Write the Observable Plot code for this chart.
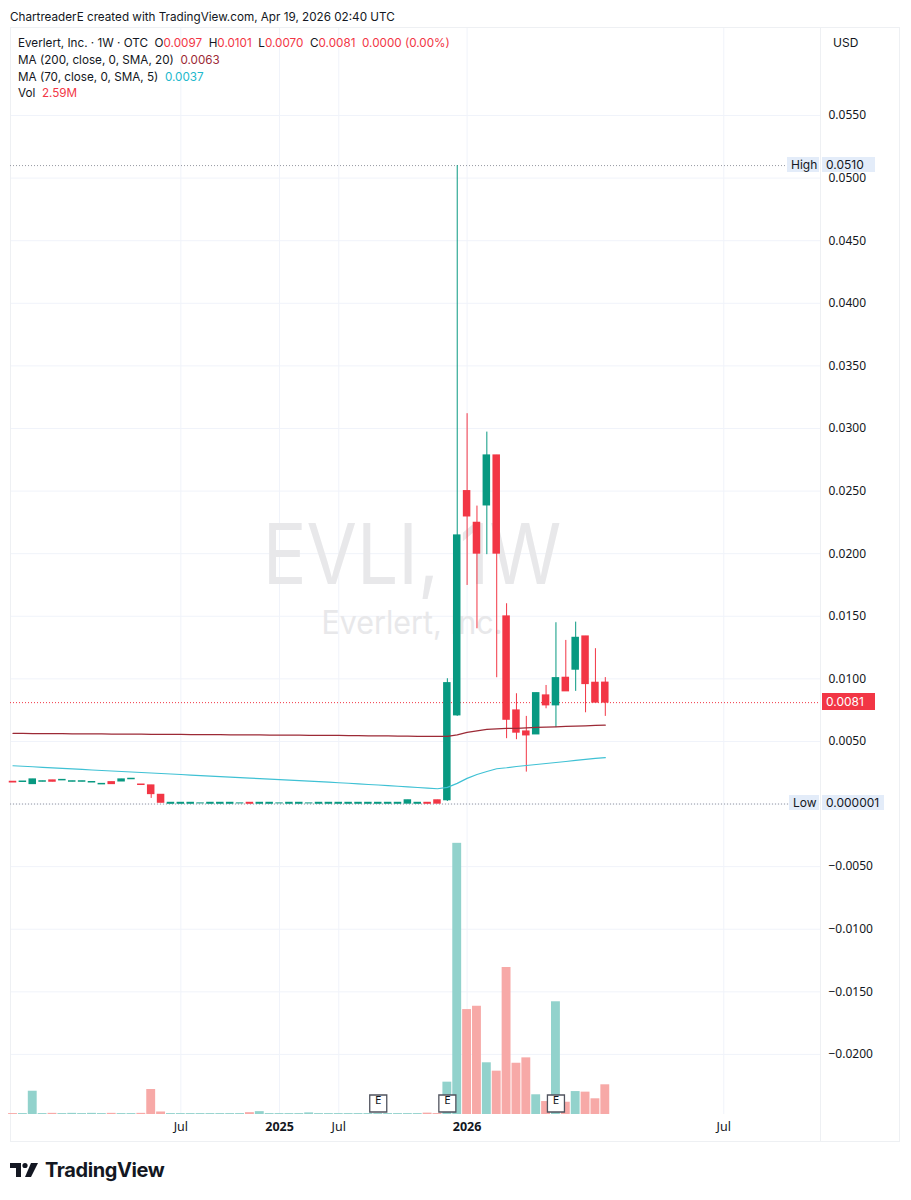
<!DOCTYPE html>
<html><head><meta charset="utf-8">
<script src="https://cdn.jsdelivr.net/npm/d3@7"></script>
<script src="https://cdn.jsdelivr.net/npm/@observablehq/plot@0.6"></script>
<style>
body{margin:0;background:#fff;font-family:Inter,"Noto Sans",sans-serif;color:#131722}
#wrap{position:relative;width:911px;height:1200px;overflow:hidden;background:#fff}
#wrap svg{position:absolute;left:0;top:0}
.abs{position:absolute;white-space:nowrap}
.hdr{font-size:11.7px;left:10px;top:10px}
.leg{font-size:11.7px;left:18px}
.red{color:#f23645}.ma2{color:#9c2a36}.ma7{color:#22b8cc}
.tag{position:absolute;font-size:12px;height:15px;line-height:15px;padding:0 4px;box-sizing:border-box;background:#e3ecf9;color:#131722}
.wm{position:absolute;color:#e8e8ea;text-align:center;width:600px;left:112px}
</style></head><body><div id="wrap"></div>
<script>
// ---- data (weekly bars, index 0..60) ----
const opens  = [0.00178,0.00176,0.00159,0.00178,0.00189,0.00189,0.00178,0.00178,0.00172,0.00157,
                0.00175,0.0018,0.00198,0.00156,0.00149,0.00074,0.00002,0.00002,0.00002,0.00005,
                0.00002,0.00002,0.00002,0.00005,0.0001,0.00002,0.00002,0.00005,0.00002,0.00002,
                0.00005,0.00002,0.00002,0.00002,0.00002,0.00002,0.00002,0.00002,0.00002,0.00002,
                0.00003,0.00002,0.0001,0.0003,0.0003,0.00708,0.025,0.02247,0.02385,0.02785,
                0.01499,0.00748,0.0058,0.00556,0.00868,0.00788,0.01009,0.01073,0.01339,0.00969,0.0097];
const highs  = [0.00178,0.0018,0.00197,0.00182,0.00189,0.00193,0.00182,0.00182,0.00176,0.00161,
                0.00175,0.00197,0.00202,0.00156,0.00149,0.00074,0.0001,0.0001,0.0001,0.00005,
                0.0001,0.0001,0.0001,0.00005,0.0001,0.0001,0.0001,0.00005,0.0001,0.0001,
                0.00005,0.0001,0.0001,0.0001,0.0001,0.0001,0.0001,0.0001,0.0001,0.0001,
                0.0003,0.0001,0.0001,0.0003,0.01001,0.051,0.03118,0.0238,0.02971,0.02785,
                0.016,0.00881,0.007,0.00886,0.00947,0.01448,0.01307,0.01453,0.01339,0.01241,0.0101];
const lows   = [0.00172,0.00176,0.00159,0.00178,0.00178,0.00189,0.00178,0.00178,0.00172,0.00157,
                0.00159,0.0018,0.00198,0.00152,0.00045,0.0001,0.000001,0.00002,0.00002,0.00005,
                0.00002,0.00002,0.00002,0.00005,0.00002,0.00002,0.00002,0.00005,0.00002,0.00002,
                0.00005,0.00002,0.00002,0.00002,0.00002,0.00002,0.00002,0.00002,0.00002,0.00002,
                0.00003,0.00002,0.00002,0.00003,0.0002,0.007,0.01746,0.014,0.01992,0.01009,
                0.00522,0.00514,0.00255,0.00556,0.00761,0.0061,0.009,0.009,0.00729,0.00809,0.007];
const closes = [0.00172,0.0018,0.00197,0.00182,0.00178,0.00193,0.00182,0.00182,0.00176,0.00161,
                0.00159,0.00197,0.00202,0.00152,0.00079,0.0001,0.0001,0.0001,0.0001,0.00005,
                0.0001,0.0001,0.0001,0.00005,0.00002,0.0001,0.0001,0.00005,0.0001,0.0001,
                0.00005,0.0001,0.0001,0.0001,0.0001,0.0001,0.0001,0.0001,0.0001,0.0001,
                0.0003,0.0001,0.00002,0.00003,0.00966,0.02146,0.02297,0.02,0.02785,0.02,
                0.00673,0.0057,0.00548,0.00886,0.00788,0.01006,0.009,0.01328,0.00958,0.0081,0.0081];
const volumesM = [0.08,0.08,2.03,0.08,0.1,0.08,0.1,0.08,0.1,0.08,
                  0.1,0.08,0.08,0.1,2.18,0.22,0.08,0.08,0.08,0.08,
                  0.08,0.08,0.08,0.08,0.16,0.25,0.08,0.08,0.08,0.08,
                  0.14,0.08,0.08,0.08,0.08,0.08,0.08,0.08,0.08,0.08,
                  0.08,0.08,0.12,0.08,2.82,23.65,9.15,9.44,4.51,3.78,
                  12.82,4.47,4.94,1.72,1.13,9.83,1.07,2.0,1.95,1.37,2.59];
const ma200 = [0.00564,0.00564,0.00563,0.00563,0.00562,0.00562,0.00561,0.00561,0.0056,0.0056,
               0.00559,0.00559,0.00558,0.00558,0.00557,0.00557,0.00556,0.00556,0.00555,0.00555,
               0.00554,0.00554,0.00553,0.00553,0.00552,0.00552,0.00551,0.00551,0.0055,0.0055,
               0.00549,0.00549,0.00548,0.00548,0.00547,0.00546,0.00545,0.00545,0.00544,0.00543,
               0.00542,0.00541,0.0054,0.0054,0.0054,0.00552,0.00572,0.00584,0.00596,0.006,
               0.00604,0.00605,0.00608,0.00612,0.00614,0.00617,0.0062,0.00622,0.00625,0.00628,0.0063];
const ma70  = [0.00306,0.00302,0.00298,0.00293,0.00289,0.00285,0.00281,0.00277,0.00272,0.00268,
               0.00264,0.0026,0.00256,0.00252,0.00248,0.00244,0.0024,0.00236,0.00231,0.00227,
               0.00223,0.00219,0.00215,0.00211,0.00207,0.00203,0.00199,0.00195,0.00191,0.00187,
               0.00183,0.00179,0.00175,0.0017,0.00166,0.00161,0.00156,0.00152,0.00147,0.00142,
               0.00137,0.00132,0.00127,0.00122,0.00133,0.00165,0.00205,0.00236,0.0026,0.00282,
               0.0029,0.003,0.00308,0.00316,0.00324,0.00332,0.0034,0.00348,0.00356,0.00364,0.0037];
const priceTicks = [-0.02,-0.015,-0.01,-0.005,0,0.005,0.01,0.015,0.02,0.025,0.03,0.035,0.04,0.045,0.05,0.055];
const monthTickBars = [17,33,72], monthTickLabels = ["Jul","Jul","Jul"];
const yearTickBars = [27,46], yearTickLabels = ["2025","2026"];
const earningsBars = [37,44,55];
const lastClose = 0.0081, periodHigh = 0.0510, periodLow = 0.000001;

// ---- build ----
const UP="#089981", DN="#f23645", VUP="#92d2cc", VDN="#f7a9a7";
const bars = opens.map((o,i)=>({i,o,h:highs[i],l:lows[i],c:closes[i],v:volumesM[i],up:closes[i]>=o}));
const W=911, H=1145;
const frame = {width:W,height:H,marginLeft:10,marginRight:91,marginTop:27,marginBottom:31,
               style:{background:"transparent",overflow:"visible"}};
const X = {type:"linear",domain:[-0.253,81.8],axis:null};
const Y = {domain:[-0.0248,0.06203],axis:null};
const wrap = document.getElementById("wrap");

const base = Plot.plot({...frame, x:X, y:Y, marks:[
  Plot.ruleY(priceTicks,{stroke:"#f0f3fa"}),
  Plot.ruleX([...monthTickBars,...yearTickBars],{stroke:"#f0f3fa"}),
  Plot.axisY(priceTicks.filter(v=>v!==0),{anchor:"right",tickSize:0,tickPadding:8,label:null,
    tickFormat:d3.format(".4f"),fontSize:12,color:"#131722"}),
  Plot.text(monthTickBars,{x:d=>d,text:(d,i)=>monthTickLabels[i],frameAnchor:"bottom",dy:16,fontSize:12.5,fill:"#131722"}),
  Plot.text(yearTickBars,{x:d=>d,text:(d,i)=>yearTickLabels[i],frameAnchor:"bottom",dy:16,fontSize:12.5,fontWeight:"bold",fill:"#131722"})
]});
wrap.appendChild(base);

// borders
const border = document.createElement("div");
border.className="abs";
Object.assign(border.style,{left:"10px",top:"27px",width:"890px",height:"1115px",border:"1px solid #eef0f3",boxSizing:"border-box"});
wrap.appendChild(border);
const sep = document.createElement("div");
sep.className="abs";
Object.assign(sep.style,{left:"820px",top:"27px",width:"1px",height:"1115px",background:"#eef0f3"});
wrap.appendChild(sep);

// watermark
const wm1=document.createElement("div");wm1.className="wm";wm1.textContent="EVLI, 1W";
Object.assign(wm1.style,{top:"512px",fontSize:"84px",lineHeight:"84px",transform:"scaleX(0.87)"});
wrap.appendChild(wm1);
const wm2=document.createElement("div");wm2.className="wm";wm2.textContent="Everlert, Inc.";
Object.assign(wm2.style,{top:"607px",fontSize:"32px",lineHeight:"32px",transform:"scaleX(0.95)"});
wrap.appendChild(wm2);

const vol = Plot.plot({...frame, x:X, y:{domain:[0,94.8],axis:null}, color:{type:"identity"}, marks:[
  Plot.rect(bars,{x1:d=>d.i-0.45,x2:d=>d.i+0.45,y1:0,y2:"v",fill:d=>d.up?VUP:VDN})
]});
wrap.appendChild(vol);

const main = Plot.plot({...frame, x:X, y:Y, color:{type:"identity"}, marks:[
  Plot.ruleY([periodHigh,periodLow],{stroke:"#9598a1",strokeDasharray:"1,2",strokeWidth:1}),
  Plot.ruleY([lastClose],{stroke:DN,strokeDasharray:"1,2",strokeWidth:1}),
  Plot.ruleX(bars,{x:"i",y1:"l",y2:"h",stroke:d=>d.up?UP:DN,strokeWidth:1}),
  Plot.rect(bars,{x1:d=>d.i-0.38,x2:d=>d.i+0.38,y1:"o",y2:"c",fill:d=>d.up?UP:DN,insetTop:-0.5,insetBottom:-0.5}),
  Plot.line(ma200,{x:(d,i)=>i,y:d=>d,stroke:"#9c2a36",strokeWidth:1.2}),
  Plot.line(ma70,{x:(d,i)=>i,y:d=>d,stroke:"#3fc1d4",strokeWidth:1.2}),
  Plot.dot(earningsBars,{x:d=>d,frameAnchor:"bottom",dy:-11,symbol:"square",r:9.6,fill:"white",stroke:"#50535e",strokeWidth:1.3}),
  Plot.text(earningsBars,{x:d=>d,text:()=>"E",frameAnchor:"bottom",dy:-11,fontSize:11.5,fill:"#131722"})
]});
wrap.appendChild(main);

// price tags positioned with the chart's y scale
const ys = main.scale("y");
function tag(text,left,width,v,bg,fg,h){
  const t=document.createElement("div");t.className="tag";t.textContent=text;
  const hh=h||15;
  Object.assign(t.style,{left:left+"px",width:width+"px",height:hh+"px",lineHeight:hh+"px",top:(ys.apply(v)-hh/2-1)+"px"});
  if(bg)t.style.background=bg; if(fg)t.style.color=fg;
  wrap.appendChild(t);
}
tag("High",787,32,periodHigh);
tag(d3.format(".4f")(periodHigh),822,53,periodHigh);
tag("Low",789,30,periodLow);
tag("0.000001",822,62,periodLow);
tag(d3.format(".4f")(lastClose),822,53,lastClose,DN,"#fff",17);

// header + legend
function html(cls,top,inner){const d=document.createElement("div");d.className="abs "+cls;d.style.top=top+"px";d.innerHTML=inner;wrap.appendChild(d);}
html("hdr",10,"ChartreaderE created with TradingView.com, Apr 19, 2026 02:40 UTC");
html("leg",36,'Everlert, Inc. · 1W · OTC&nbsp; O<span class="red">0.0097</span>&nbsp; H<span class="red">0.0101</span>&nbsp; L<span class="red">0.0070</span>&nbsp; C<span class="red">0.0081</span>&nbsp; <span class="red">0.0000 (0.00%)</span>');
html("leg",53,'MA (200, close, 0, SMA, 20)&nbsp; <span class="ma2">0.0063</span>');
html("leg",70,'MA (70, close, 0, SMA, 5)&nbsp; <span class="ma7">0.0037</span>');
html("leg",86,'Vol&nbsp; <span class="red">2.59M</span>');
const usd=document.createElement("div");usd.className="abs";usd.textContent="USD";
Object.assign(usd.style,{left:"833px",top:"35px",fontSize:"12px"});wrap.appendChild(usd);

// footer logo
const logo=document.createElement("div");logo.className="abs";
Object.assign(logo.style,{left:"10px",top:"1158px",display:"flex",alignItems:"center",gap:"5px"});
logo.innerHTML='<svg width="30" height="16" viewBox="0 0 30 16" style="position:static"><path d="M0 1h11v14H6V6H0z" fill="#131722"/><circle cx="15" cy="3.5" r="2.6" fill="#131722"/><path d="M21 1h7l-7 14h-6z" fill="#131722"/></svg><span style="font-weight:700;font-size:20px;letter-spacing:-0.4px;color:#131722">TradingView</span>';
wrap.appendChild(logo);
</script></body></html>
